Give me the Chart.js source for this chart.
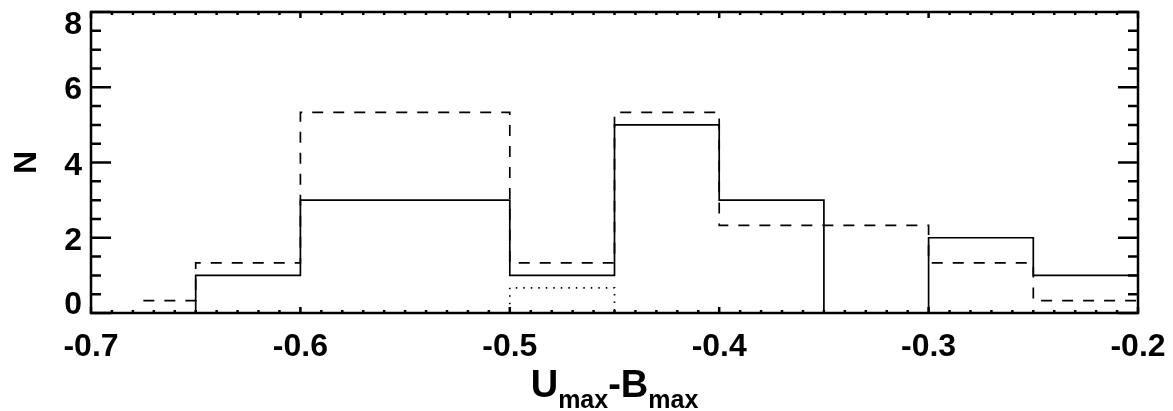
<!DOCTYPE html>
<html>
<head>
<meta charset="utf-8">
<script src="https://cdn.jsdelivr.net/npm/chart.js@4"></script>
<style>
    body { margin: 0; background: #fff; }
    #wrap { width: 1173px; height: 411px; }
</style>
</head>
<body>
<div id="wrap"><canvas id="chart"></canvas></div>
<script>
// bin edges (Umax - Bmax)
const binEdges = [-0.7, -0.65, -0.6, -0.55, -0.5, -0.45, -0.4, -0.35, -0.3, -0.25, -0.2];
// counts per bin
const solidCounts = [0, 1, 3, 3, 1, 5, 3, 0, 2, 1];
const dashedCounts = [0.33, 1.33, 5.33, 5.33, 1.33, 5.33, 2.33, 2.33, 1.33, 0.33];
const dottedCounts = [0, 0, 0, 0, 0.67, 0, 0, 0, 0, 0];

const xTickValues = [-0.7, -0.6, -0.5, -0.4, -0.3, -0.2];
const xTickLabels = ['-0.7', '-0.6', '-0.5', '-0.4', '-0.3', '-0.2'];
const yTickValues = [0, 2, 4, 6, 8];
const yTickLabels = ['0', '2', '4', '6', '8'];

// histogram outline: value held from left edge to the next edge
function steps(counts, startAtCentre) {
    const pts = counts.map((c, i) => ({ x: binEdges[i], y: c }));
    if (startAtCentre) pts[0].x = (binEdges[0] + binEdges[1]) / 2;
    pts.push({ x: binEdges[binEdges.length - 1], y: counts[counts.length - 1] });
    return pts;
}

const FONT = '"Liberation Sans", Arial, sans-serif';

const framePlugin = {
    id: 'frame',
    afterDatasetsDraw(chart) {
        const { ctx, chartArea: a, scales: { x, y } } = chart;
        ctx.save();
        ctx.strokeStyle = '#000';
        ctx.lineWidth = 2.5;
        ctx.strokeRect(a.left, a.top, a.right - a.left, a.bottom - a.top);

        ctx.beginPath();
        // y ticks every 0.5, major every 2
        for (let i = 0; i <= 16; i++) {
            const v = i * 0.5;
            const py = y.getPixelForValue(v);
            const len = i % 4 === 0 ? 20 : 10;
            ctx.moveTo(a.left, py); ctx.lineTo(a.left + len, py);
            ctx.moveTo(a.right, py); ctx.lineTo(a.right - len, py);
        }
        // x ticks every 0.01, major every 0.1
        for (let i = 0; i <= 50; i++) {
            const v = -0.7 + i * 0.01;
            const px = x.getPixelForValue(v);
            const len = i % 10 === 0 ? 6 : 3;
            ctx.moveTo(px, a.bottom); ctx.lineTo(px, a.bottom - len);
            ctx.moveTo(px, a.top); ctx.lineTo(px, a.top + len);
        }
        ctx.stroke();

        ctx.fillStyle = '#000';
        ctx.font = 'bold 32px ' + FONT;
        ctx.textBaseline = 'alphabetic';

        ctx.textAlign = 'right';
        yTickValues.forEach((v, i) => {
            let py = y.getPixelForValue(v) + 12;
            if (i === 0) py -= 11;
            if (i === yTickValues.length - 1) py += 10;
            ctx.fillText(yTickLabels[i], a.left - 9, py);
        });

        ctx.textAlign = 'center';
        xTickValues.forEach((v, i) => {
            ctx.fillText(xTickLabels[i], x.getPixelForValue(v), a.bottom + 43);
        });

        // y title
        ctx.save();
        ctx.translate(36, (a.top + a.bottom) / 2);
        ctx.rotate(-Math.PI / 2);
        ctx.textAlign = 'center';
        ctx.fillText('N', 0, 0);
        ctx.restore();

        // x title with subscripts
        const parts = [
            ['U', 38, 0], ['max', 25, 11], ['-B', 38, 0], ['max', 25, 11]
        ];
        let total = 0;
        parts.forEach(p => { ctx.font = 'bold ' + p[1] + 'px ' + FONT; total += ctx.measureText(p[0]).width; });
        let cx = (a.left + a.right) / 2 - total / 2;
        ctx.textAlign = 'left';
        parts.forEach(p => {
            ctx.font = 'bold ' + p[1] + 'px ' + FONT;
            ctx.fillText(p[0], cx, 397 + p[2]);
            cx += ctx.measureText(p[0]).width;
        });
        ctx.restore();
    }
};

new Chart(document.getElementById('chart'), {
    type: 'line',
    data: {
        datasets: [
            {
                label: 'solid',
                data: steps(solidCounts, false),
                borderColor: '#000',
                borderWidth: 1.7,
                stepped: 'before',
                pointRadius: 0
            },
            {
                label: 'dashed',
                data: steps(dashedCounts, true),
                borderColor: '#000',
                borderWidth: 1.7,
                borderDash: [11, 10],
                stepped: 'before',
                pointRadius: 0
            },
            {
                label: 'dotted',
                data: steps(dottedCounts, false),
                borderColor: '#000',
                borderWidth: 1.7,
                borderDash: [1.5, 6],
                stepped: 'before',
                pointRadius: 0
            }
        ]
    },
    options: {
        responsive: true,
        maintainAspectRatio: false,
        animation: false,
        layout: { padding: { left: 91, right: 35, top: 12, bottom: 98 } },
        plugins: {
            legend: { display: false },
            tooltip: { enabled: false }
        },
        scales: {
            x: { type: 'linear', min: -0.7, max: -0.2, display: false },
            y: { min: 0, max: 8, display: false }
        }
    },
    plugins: [framePlugin]
});
</script>
</body>
</html>
